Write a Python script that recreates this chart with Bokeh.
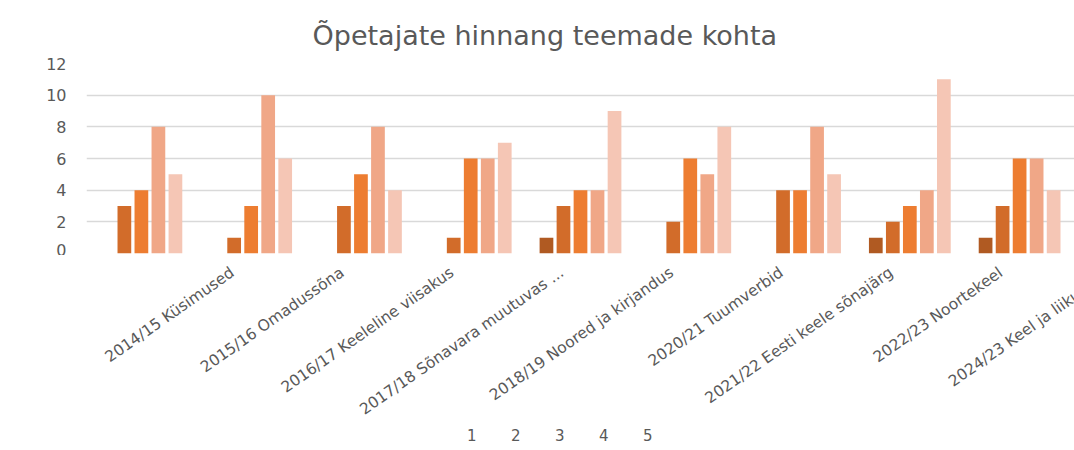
import math
from bokeh.plotting import figure
from bokeh.layouts import column
from bokeh.models import ColumnDataSource, FactorRange, Range1d, Legend, LegendItem, Title
from bokeh.transform import dodge
from bokeh.core.properties import value
from bokeh.embed import file_html
from bokeh.resources import INLINE

categories = ["2014/15 Küsimused", "2015/16 Omadussõna", "2016/17 Keeleline viisakus",
              "2017/18 Sõnavara muutuvas ...", "2018/19 Noored ja kirjandus",
              "2020/21 Tuumverbid", "2021/22 Eesti keele sõnajärg",
              "2022/23 Noortekeel", "2024/23 Keel ja liikumine"]
series_names = ["1", "2", "3", "4", "5"]
s1 = [0, 0, 0, 0, 1, 0, 0, 1, 1]
s2 = [3, 1, 3, 1, 3, 2, 4, 2, 3]
s3 = [4, 3, 5, 6, 4, 6, 4, 3, 6]
s4 = [8, 10, 8, 6, 4, 5, 8, 4, 6]
s5 = [5, 6, 4, 7, 9, 8, 5, 11, 4]
y_ticks = [0, 2, 4, 6, 8, 10, 12]

colors = ["#B05A22", "#D26C2A", "#ED7D31", "#F0A787", "#F5C6B5"]

LEFT = 86
FRAME_W = 988
src = ColumnDataSource(dict(cat=categories, s1=s1, s2=s2, s3=s3, s4=s4, s5=s5))

# main chart
p = figure(x_range=FactorRange(*categories, range_padding=0.0), y_range=(0, 12),
           frame_width=FRAME_W, frame_height=190, output_backend="svg", toolbar_location=None,
           x_axis_location=None,
           min_border_left=LEFT, min_border_right=0, min_border_top=63, min_border_bottom=2)

offsets = [-0.31, -0.155, 0.0, 0.155, 0.31]
for i, col in enumerate(colors):
    p.vbar(x=dodge("cat", offsets[i], range=p.x_range), top="s%d" % (i + 1),
           width=0.125, source=src, fill_color=col, line_color=None)

p.title = Title(text="Õpetajate hinnang teemade kohta", align="left", offset=226,
                text_font="DejaVu Sans", text_font_size="27px",
                text_font_style="normal", text_color="#595959", standoff=25)

p.yaxis.ticker = y_ticks
p.yaxis.axis_line_color = None
p.yaxis.major_tick_line_color = None
p.yaxis.minor_tick_line_color = None
p.yaxis.major_tick_out = 0
p.yaxis.major_tick_in = 0
p.yaxis.major_label_text_font = "DejaVu Sans"
p.yaxis.major_label_text_font_size = "16px"
p.yaxis.major_label_text_color = "#595959"
p.yaxis.major_label_standoff = 20

p.xgrid.grid_line_color = None
p.ygrid.grid_line_color = "#D9D9D9"
p.ygrid.grid_line_width = 1.5
p.outline_line_color = None

# strip below: rotated category labels and legend
group_w = FRAME_W / len(categories)
label_x = [i + 0.5 for i in range(len(categories))]
label_y = [0.958] * len(categories)

p2 = figure(x_range=Range1d(-LEFT / group_w, len(categories)), y_range=Range1d(0, 1),
            frame_width=LEFT + FRAME_W, frame_height=190, output_backend="svg",
            toolbar_location=None, x_axis_location=None, y_axis_location=None,
            min_border_left=0, min_border_right=0, min_border_top=0, min_border_bottom=0)
p2.outline_line_color = None
p2.grid.visible = False

p2.text(x=label_x, y=label_y, text=categories, angle=math.radians(35),
        text_align="right", text_baseline="top",
        text_font=value("DejaVu Sans"), text_font_size="15.5px", text_color="#595959")

items = []
for name, col in zip(series_names, colors):
    r = p2.vbar(x=[], top=[], width=0.1, fill_color=col, line_color=None)
    items.append(LegendItem(label=name, renderers=[r]))

legend = Legend(items=items, orientation="horizontal", location=(452, 0),
                label_text_font="DejaVu Sans", label_text_font_size="15px",
                label_text_color="#595959", glyph_width=11, glyph_height=11,
                label_standoff=4, label_width=10, label_height=16, spacing=19,
                border_line_color=None, background_fill_alpha=0, padding=0, margin=0)
p2.add_layout(legend, "center")

layout = column(p, p2)

open("out.html", "w").write(file_html(layout, INLINE))
